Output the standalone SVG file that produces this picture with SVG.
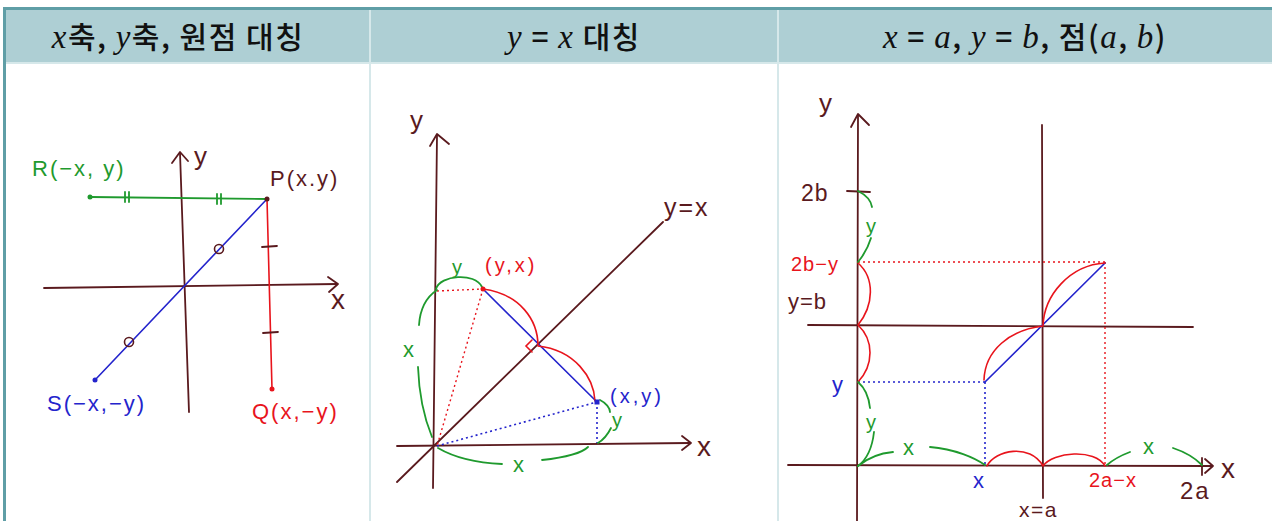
<svg xmlns="http://www.w3.org/2000/svg" width="1272" height="521" viewBox="0 0 1272 521">
<style>
.ax{stroke:#5a1a1e;stroke-width:1.8;fill:none;stroke-linecap:round;stroke-linejoin:round}
.g{stroke:#1f9a2e;stroke-width:1.8;fill:none;stroke-linecap:round}
.r{stroke:#e8141c;stroke-width:1.6;fill:none;stroke-linecap:round}
.b{stroke:#2424cc;stroke-width:1.6;fill:none;stroke-linecap:round}
.rd{stroke:#e8141c;stroke-width:1.4;fill:none;stroke-dasharray:2 3}
.bd{stroke:#2424cc;stroke-width:1.6;fill:none;stroke-dasharray:2 3}
text{font-family:"Liberation Sans","Noto Sans",sans-serif}
.t{font-size:22px;letter-spacing:2px}
.tb{fill:#5a1a1e}.tg{fill:#1f9a2e}.tr{fill:#e8141c}.tu{fill:#2424cc}
.h{font-family:"Noto Sans CJK KR",sans-serif;font-size:30px;font-weight:500;fill:#111;text-anchor:middle;letter-spacing:1.5px}
.m{font-family:"Liberation Serif",serif;font-style:italic;font-size:33px}
</style>
<g id="table">
<rect x="0" y="0" width="1272" height="521" fill="#ffffff"/>
<rect x="3" y="10" width="1269" height="52" fill="#aecfd4"/>
<rect x="3" y="7" width="1269" height="3" fill="#5f9ea6"/>
<rect x="3" y="7" width="3" height="514" fill="#5f9ea6"/>
<line x1="6" y1="63" x2="1272" y2="63" stroke="#d6e8ea" stroke-width="2"/>
<line x1="370" y1="10" x2="370" y2="521" stroke="#d6e8ea" stroke-width="2"/>
<line x1="778" y1="10" x2="778" y2="521" stroke="#d6e8ea" stroke-width="2"/>
</g>
<g id="header">
<text class="h" x="178" y="48"><tspan class="m">x</tspan>축, <tspan class="m">y</tspan>축, 원점  대칭</text>
<text class="h" x="574" y="48"><tspan class="m">y</tspan> = <tspan class="m">x</tspan>  대칭</text>
<text class="h" x="1025" y="48"><tspan class="m">x</tspan> = <tspan class="m">a</tspan>,  <tspan class="m">y</tspan> = <tspan class="m">b</tspan>,  점(<tspan class="m">a</tspan>,  <tspan class="m">b</tspan>)</text>
</g>
<g id="panel1">
<g id="p1-axes">
<path class="ax" d="M180,153 L189,412"/><path class="ax" d="M172,163 L180,152 L188,161"/>
<path class="ax" d="M44,288 L337,284"/><path class="ax" d="M328,277 L338,284 L329,292"/>
<text class="tb" x="194" y="165" font-size="26">y</text>
<text class="tb" x="331" y="309" font-size="28">x</text>
</g>
<g id="p1-connectors">
<path class="g" d="M90,197 L267,199"/>
<path class="g" d="M125,192 L125,202 M129,192 L129,202 M217,194 L217,204 M221,194 L221,204"/>
<path class="b" d="M95,380 L267,199"/>
<circle cx="219" cy="249" r="4.5" fill="none" stroke="#5a1a1e" stroke-width="1.6"/>
<circle cx="129" cy="342" r="4.5" fill="none" stroke="#5a1a1e" stroke-width="1.6"/>
<path class="r" d="M267,199 L272,389"/>
<path class="ax" d="M262,247 L277,246 M263,333 L278,332"/>
</g>
<g id="p1-R"><circle cx="90" cy="197" r="2.5" fill="#1f9a2e"/><text class="t tg" x="32" y="176">R(−x, y)</text></g>
<g id="p1-P"><circle cx="267" cy="199" r="2.5" fill="#5a1a1e"/><text class="t tb" x="270" y="186" letter-spacing="4">P(x.y)</text></g>
<g id="p1-S"><circle cx="95" cy="380" r="2.5" fill="#2424cc"/><text class="t tu" x="47" y="411">S(−x,−y)</text></g>
<g id="p1-Q"><circle cx="272" cy="389" r="2.5" fill="#e8141c"/><text class="t tr" x="252" y="419" letter-spacing="3">Q(x,−y)</text></g>
</g>
<g id="panel2">
<g id="p2-axes">
<path class="ax" d="M437,135 L433,488"/><path class="ax" d="M430,146 L437,134 L449,144"/>
<path class="ax" d="M397,446 L690,443"/><path class="ax" d="M682,436 L691,443 L682,450"/>
<path class="ax" d="M397,482 L663,222"/>
<text class="tb" x="410" y="129" font-size="26">y</text>
<text class="tb" x="697" y="456" font-size="28">x</text>
<text class="tb" x="664" y="216" font-size="25" letter-spacing="2">y=x</text>
</g>
<g id="p2-connectors">
<path class="rd" d="M437,291 L483,289 M483,289 L437,446"/>
<path class="bd" d="M437,446 L597,402 M597,402 L597,443"/>
<path class="b" d="M483,289 L597,402"/>
<path class="r" d="M483,289 C520,294 538,320 538,346 M538,346 C575,350 594,378 595,401"/>
<path class="r" d="M532,340 L526,346 L532,352"/>
<path class="g" d="M436,289 C440,275 475,272 482,287"/>
<path class="g" d="M437,290 C425,298 420,310 419,325 M418,367 C419,395 425,420 432,437"/>
<path class="g" d="M438,448 C455,458 480,463 502,464 M542,460 C560,458 580,455 588,447"/>
<path class="g" d="M600,400 C606,403 610,408 610,412 M611,428 C608,434 603,440 598,443"/>
<text class="tg" x="452" y="274" font-size="20">y</text>
<text class="tg" x="403" y="357" font-size="22">x</text>
<text class="tg" x="513" y="472" font-size="22">x</text>
<text class="tg" x="612" y="427" font-size="20">y</text>
</g>
<g id="p2-yx"><circle cx="483" cy="289" r="2.5" fill="#e8141c"/><text class="tr" x="485" y="272" font-size="20" letter-spacing="3">(y,x)</text></g>
<g id="p2-xy"><rect x="594.5" y="399.5" width="5" height="5" fill="#2424cc"/><text class="tu" x="610" y="403" font-size="20" letter-spacing="3">(x,y)</text></g>
</g>
<g id="panel3">
<g id="p3-axes">
<path class="ax" d="M858,115 L857,521"/><path class="ax" d="M851,127 L858,114 L869,125"/>
<path class="ax" d="M788,465 L1212,466"/><path class="ax" d="M1205,459 L1213,466 L1205,473 M1202,458 L1202,475"/>
<path class="ax" d="M1042,125 L1043,498"/>
<path class="ax" d="M808,325 L1193,327"/>
<path class="ax" d="M847,191 L870,192"/>
<text class="tb" x="819" y="112" font-size="26">y</text>
<text class="tb" x="801" y="201" font-size="23" letter-spacing="1">2b</text>
<text class="tb" x="788" y="309" font-size="22" letter-spacing="1">y=b</text>
<text class="tb" x="1221" y="478" font-size="28">x</text>
<text class="tb" x="1180" y="499" font-size="24" letter-spacing="2">2a</text>
<text class="tb" x="1019" y="517" font-size="21" letter-spacing="1.5">x=a</text>
</g>
<g id="p3-connectors">
<path class="rd" d="M858,262 L1105,262 M1105,262 L1105,466"/>
<path class="bd" d="M858,382 L985,382 M985,382 L985,466"/>
<path class="b" d="M985,382 L1105,263"/>
<path class="r" d="M858,263 C875,278 874,305 858,325 M858,325 C874,340 874,365 858,382"/>
<path class="r" d="M987,466 C995,450 1030,443 1043,466 M1043,466 C1053,452 1095,448 1105,466"/>
<path class="r" d="M984,380 C985,350 1010,330 1043,326 M1043,326 C1044,295 1070,265 1105,263"/>
<path class="g" d="M858,191 C866,195 871,201 872,207 M871,238 C868,248 863,256 858,262"/>
<path class="g" d="M858,382 C865,388 869,398 870,408 M874,432 C872,450 866,460 858,466"/>
<path class="g" d="M858,466 C870,456 882,453 893,452 M930,447 C955,449 975,458 985,465"/>
<path class="g" d="M1107,465 C1115,458 1122,455 1130,452 M1173,448 C1185,452 1195,458 1202,465"/>
<text class="tg" x="866" y="233" font-size="20">y</text>
<text class="tg" x="866" y="429" font-size="20">y</text>
<text class="tg" x="903" y="455" font-size="22">x</text>
<text class="tg" x="1143" y="454" font-size="22">x</text>
</g>
<g id="p3-labels">
<text class="tr" x="791" y="271" font-size="20" letter-spacing="1">2b−y</text>
<text class="tu" x="832" y="392" font-size="22">y</text>
<text class="tu" x="973" y="488" font-size="22">x</text>
<text class="tr" x="1089" y="487" font-size="20" letter-spacing="1">2a−x</text>
</g>
</g>
</svg>
